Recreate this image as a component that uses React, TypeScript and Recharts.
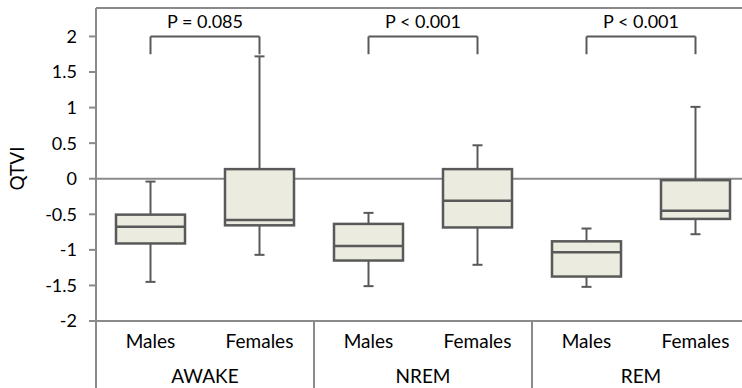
import React from 'react';
import {
  ComposedChart,
  Bar,
  XAxis,
  YAxis,
  CartesianGrid,
  ReferenceLine,
  Label,
} from 'recharts';

// QTVI distribution per sleep stage and sex
const stages = ['AWAKE', 'AWAKE', 'NREM', 'NREM', 'REM', 'REM'];
const sexes = ['Males', 'Females', 'Males', 'Females', 'Males', 'Females'];
const mins = [-1.45, -1.07, -1.51, -1.21, -1.52, -0.78];
const q1s = [-0.91, -0.655, -1.15, -0.685, -1.375, -0.565];
const medians = [-0.675, -0.58, -0.945, -0.31, -1.035, -0.45];
const q3s = [-0.505, 0.135, -0.635, 0.135, -0.88, -0.02];
const maxs = [-0.04, 1.72, -0.48, 0.47, -0.7, 1.01];

// significance brackets between the two sexes of each stage
const pStages = ['AWAKE', 'NREM', 'REM'];
const pLabels = ['P = 0.085', 'P < 0.001', 'P < 0.001'];
const bracketTop = 2.0;
const bracketFoot = 1.75;

const yTicks = [-2, -1.5, -1, -0.5, 0, 0.5, 1, 1.5, 2];
const Y_MIN = -2;
const Y_MAX = 2.4;

const data = sexes.map((sex, i) => ({
  key: `${stages[i]}-${sex}`,
  sex,
  stage: stages[i],
  min: mins[i],
  q1: q1s[i],
  median: medians[i],
  q3: q3s[i],
  max: maxs[i],
}));

const FONT = 'Lato, "Open Sans", sans-serif';
const AXIS = '#8a8a8a';
const BOX_STROKE = '#595959';
const BOX_FILL = '#EBEBE0';

const CHART_W = 760;
const CHART_H = 388;
const MARGIN = { top: 8, right: 10, bottom: 0, left: 0 };
const Y_AXIS_W = 96;
const X_AXIS_H = 67;
const BAND = (CHART_W - MARGIN.left - MARGIN.right - Y_AXIS_W) / data.length;

const BoxShape = (props: any) => {
  const { x, y, width, height, payload } = props;
  if (payload == null) return null;
  const top = Math.min(y, y + height);
  const bot = Math.max(y, y + height);
  const { min, q1, median, q3, max } = payload;
  const pix = (v: number) => top + ((max - v) / (max - min)) * (bot - top);
  const cx = x + width / 2;
  const cap = 5;
  return (
    <g>
      <line x1={cx} x2={cx} y1={pix(max)} y2={pix(q3)} stroke={BOX_STROKE} strokeWidth={2} />
      <line x1={cx - cap} x2={cx + cap} y1={pix(max)} y2={pix(max)} stroke={BOX_STROKE} strokeWidth={2} />
      <line x1={cx} x2={cx} y1={pix(q1)} y2={pix(min)} stroke={BOX_STROKE} strokeWidth={2} />
      <line x1={cx - cap} x2={cx + cap} y1={pix(min)} y2={pix(min)} stroke={BOX_STROKE} strokeWidth={2} />
      <rect
        x={x}
        y={pix(q3)}
        width={width}
        height={pix(q1) - pix(q3)}
        fill={BOX_FILL}
        stroke={BOX_STROKE}
        strokeWidth={2.5}
      />
      <line x1={x} x2={x + width} y1={pix(median)} y2={pix(median)} stroke={BOX_STROKE} strokeWidth={2.5} />
    </g>
  );
};

const CategoryTick = (props: any) => {
  const { x, y, payload } = props;
  const i = payload.index;
  const row = data[i];
  return (
    <g>
      <text x={x} y={y + 27} textAnchor="middle" fontFamily={FONT} fontSize={19} fill="#000">
        {row.sex}
      </text>
      {i % 2 === 0 ? (
        <line x1={x - BAND / 2} x2={x - BAND / 2} y1={y} y2={CHART_H} stroke={AXIS} strokeWidth={2} />
      ) : (
        <text x={x - BAND / 2} y={y + 62} textAnchor="middle" fontFamily={FONT} fontSize={19} fill="#000">
          {row.stage}
        </text>
      )}
    </g>
  );
};

export default function App() {
  return (
    <div
      style={{
        position: 'fixed',
        left: 0,
        top: 0,
        width: 742,
        height: 388,
        overflow: 'hidden',
        background: '#fff',
      }}
    >
      <ComposedChart width={CHART_W} height={CHART_H} data={data} margin={MARGIN}>
        <CartesianGrid
          vertical={false}
          horizontalValues={[0, Y_MAX]}
          stroke={AXIS}
          strokeWidth={2}
          strokeDasharray=""
        />
        <XAxis
          dataKey="key"
          height={X_AXIS_H}
          interval={0}
          tickLine={false}
          tickSize={0}
          tickMargin={0}
          axisLine={{ stroke: AXIS, strokeWidth: 2 }}
          tick={<CategoryTick />}
        />
        <YAxis
          type="number"
          domain={[Y_MIN, Y_MAX]}
          ticks={yTicks}
          width={Y_AXIS_W}
          tickSize={7}
          tickMargin={12}
          interval={0}
          axisLine={{ stroke: AXIS, strokeWidth: 2 }}
          tickLine={{ stroke: AXIS, strokeWidth: 2 }}
          tick={{ fontFamily: FONT, fontSize: 18, fill: '#000' }}
          allowDataOverflow
        >
          <Label
            value="QTVI"
            angle={-90}
            position="insideLeft"
            offset={17}
            dy={4}
            style={{ fontFamily: FONT, fontSize: 19, fill: '#000', textAnchor: 'middle' }}
          />
        </YAxis>
        <Bar
          dataKey={(d: any) => [d.min, d.max]}
          barSize={69}
          shape={<BoxShape />}
          isAnimationActive={false}
        />
        {pStages.map((stage, i) => (
          <ReferenceLine
            key={`h-${stage}`}
            segment={[
              { x: `${stage}-Males`, y: bracketTop },
              { x: `${stage}-Females`, y: bracketTop },
            ]}
            stroke={BOX_STROKE}
            strokeWidth={2}
            ifOverflow="visible"
            label={{
              value: pLabels[i],
              position: 'top',
              offset: 8,
              fontFamily: FONT,
              fontSize: 18,
              fill: '#000',
            }}
          />
        ))}
        {pStages.map((stage) =>
          sexes.slice(0, 2).map((sex) => (
            <ReferenceLine
              key={`v-${stage}-${sex}`}
              segment={[
                { x: `${stage}-${sex}`, y: bracketTop },
                { x: `${stage}-${sex}`, y: bracketFoot },
              ]}
              stroke={BOX_STROKE}
              strokeWidth={2}
              ifOverflow="visible"
            />
          ))
        )}
      </ComposedChart>
    </div>
  );
}
